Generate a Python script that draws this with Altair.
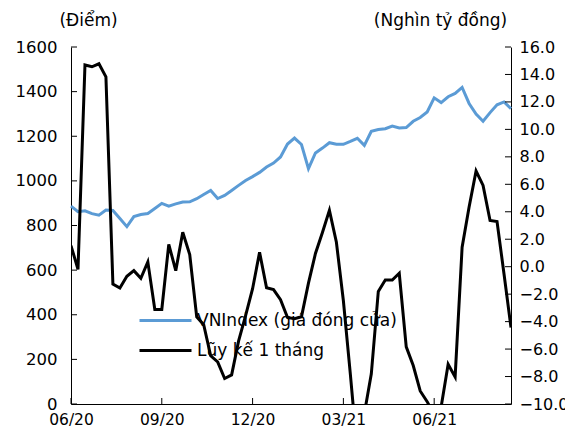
import altair as alt
import pandas as pd

# ---- data (weekly) ----
weeks = pd.date_range("2020-06-05", periods=64, freq="7D").strftime("%Y-%m-%d").tolist()

vnindex = [887, 862, 866, 853, 846, 869, 867, 831, 795, 840, 849, 854, 876, 899, 887, 897,
           905, 906, 920, 939, 957, 921, 935, 957, 980, 1002, 1019, 1038, 1062, 1080, 1107,
           1165, 1192, 1163, 1055, 1125, 1147, 1171, 1164, 1164, 1177, 1191, 1159, 1222, 1230,
           1234, 1246, 1237, 1239, 1267, 1284, 1309, 1372, 1351, 1377, 1392, 1419, 1347, 1299,
           1267, 1306, 1341, 1354, 1324]

luyke = [1.54, -0.2, 14.69, 14.56, 14.78, 13.83, -1.26, -1.55, -0.70, -0.29, -0.85, 0.35,
         -3.11, -3.11, 1.63, -0.29, 2.51, 0.88, -3.65, -4.23, -6.49, -6.93, -8.14, -7.88,
         -5.40, -3.57, -1.60, 1.05, -1.53, -1.67, -2.40, -3.70, -3.79, -3.65, -1.20, 0.96,
         2.49, 4.10, 1.78, -2.48, -7.85, -13.5, -10.7, -7.80, -1.80, -0.97, -0.97, -0.48,
         -5.84, -7.20, -9.05, -9.83, -10.8, -10.2, -7.10, -8.03, 1.42, 4.34, 6.97, 5.92,
         3.37, 3.29, -0.53, -4.43]

series_names = ["VNIndex (giá đóng cửa)", "Lũy kế 1 tháng"]
series_colors = ["#5B9BD5", "#000000"]

left_ticks = [0, 200, 400, 600, 800, 1000, 1200, 1400, 1600]
right_ticks = [-10, -8, -6, -4, -2, 0, 2, 4, 6, 8, 10, 12, 14, 16]
x_tick_dates = ["2020-06-05", "2020-09-04", "2020-12-04", "2021-03-05", "2021-06-04"]
x_tick_fmt = "%m/%y"

left_title = "(Điểm)"
right_title = "(Nghìn tỷ đồng)"

FONT = "DejaVu Sans"
W, H = 440, 357
TICK = 6

df = pd.DataFrame({
    "date": weeks * 2,
    "series": [series_names[0]] * len(weeks) + [series_names[1]] * len(weeks),
    "value": vnindex + luyke,
})


def dt(s):
    y, m, d = map(int, s.split("-"))
    return alt.DateTime(year=y, month=m, date=d, utc=True)


x_enc = alt.X(
    "date:T",
    scale=alt.Scale(type="utc", domain=[dt(weeks[0]), dt(weeks[-1])]),
    axis=alt.Axis(values=[dt(s) for s in x_tick_dates],
                  labelExpr=f"utcFormat(datum.value, '{x_tick_fmt}')",
                  title=None, labelPadding=8.5, labelFontSize=15.5,
                  labelOverlap=False, labelFlush=False),
)

color = alt.Color(
    "series:N",
    scale=alt.Scale(domain=series_names, range=series_colors),
    legend=alt.Legend(title=None, orient="none", legendX=83, legendY=262,
                      symbolType="M-2.6,0H2.6", symbolSize=400, symbolStrokeWidth=3,
                      labelFontSize=17, labelFont=FONT, labelColor="black",
                      labelLimit=0, rowPadding=10, labelOffset=20),
)

left_scale = alt.Scale(domain=[0, 1600], nice=False, zero=False)
right_scale = alt.Scale(domain=[-10, 16], nice=False, zero=False)

base = alt.Chart(df)

left = base.transform_filter(alt.datum.series == series_names[0]).mark_line(
    strokeWidth=3
).encode(
    x=x_enc,
    y=alt.Y("value:Q", scale=left_scale,
            axis=alt.Axis(orient="left", values=left_ticks, format="d",
                          title=left_title, titleAngle=0, titleX=17, titleY=-27,
                          titleAlign="center", titleBaseline="middle", labelPadding=14)),
    color=color,
)

right = base.transform_filter(alt.datum.series == series_names[1]).mark_line(
    strokeWidth=3, clip=True
).encode(
    x=x_enc,
    y=alt.Y("value:Q", scale=right_scale,
            axis=alt.Axis(orient="right", values=right_ticks, format=".1f",
                          title=right_title, titleAngle=0, titleX=-71, titleY=-27,
                          titleAlign="center", titleBaseline="middle",
                          labelPadding=8, labelFontSize=16)),
    color=color,
)

lt = alt.Chart(pd.DataFrame({"v": left_ticks})).mark_rule(color="black").encode(
    y=alt.Y("v:Q", scale=left_scale, axis=None), x=alt.value(0), x2=alt.value(TICK))
rt = alt.Chart(pd.DataFrame({"v": right_ticks})).mark_rule(color="black").encode(
    y=alt.Y("v:Q", scale=right_scale, axis=None), x=alt.value(W), x2=alt.value(W - TICK))
xt = alt.Chart(pd.DataFrame({"date": x_tick_dates})).mark_rule(color="black").encode(
    x=x_enc, y=alt.value(H), y2=alt.value(H - TICK))

chart = alt.layer(left, right, lt, rt, xt).resolve_scale(y="independent").properties(
    width=W, height=H,
    padding={"left": 63, "top": 39, "right": 54, "bottom": 24},
    autosize=alt.AutoSizeParams(type="none"),
).configure_view(stroke=None).configure_axis(
    domainColor="black", domainWidth=1, ticks=False, tickSize=0, grid=False,
    labelFont=FONT, labelFontSize=16.5, labelColor="black",
    titleFont=FONT, titleFontSize=17, titleColor="black", titleFontWeight="normal",
)

chart.save("out.html", embed_options={"renderer": "svg", "actions": False})
